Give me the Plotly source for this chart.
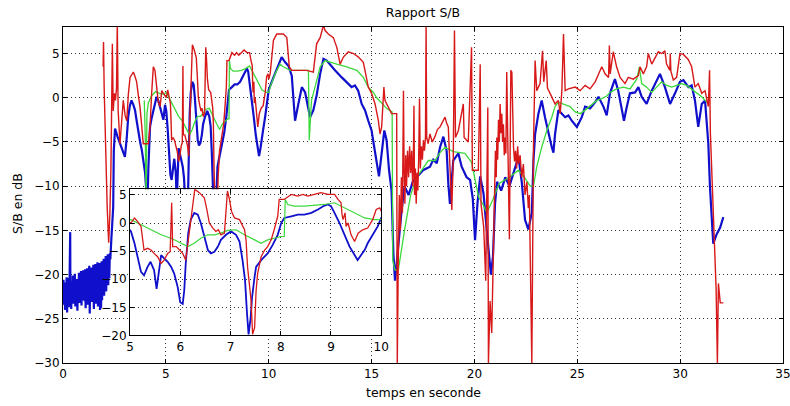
import plotly.graph_objects as go

# S/B ratio traces: (time in s, ratio in dB)
blue = [(0.000, -22.0), (0.025, -20.6), (0.050, -23.4), (0.075, -21.2), (0.100, -24.0), (0.125, -20.9),
        (0.150, -22.8), (0.175, -20.3), (0.200, -24.3), (0.225, -21.5), (0.250, -23.1), (0.275, -20.4),
        (0.300, -23.7), (0.325, -21.0), (0.350, -15.2), (0.360, -22.5), (0.375, -20.8), (0.400, -23.9),
        (0.425, -21.4), (0.450, -22.6), (0.475, -20.1), (0.500, -23.3), (0.525, -20.7), (0.550, -22.2),
        (0.575, -19.9), (0.600, -23.6), (0.625, -21.1), (0.650, -22.9), (0.675, -20.5), (0.700, -24.1),
        (0.725, -21.3), (0.750, -22.4), (0.775, -19.8), (0.800, -23.2), (0.825, -20.6), (0.850, -22.0),
        (0.875, -19.6), (0.900, -23.5), (0.925, -20.9), (0.950, -22.7), (0.975, -19.5), (1.000, -22.9),
        (1.025, -20.2), (1.050, -23.0), (1.075, -19.4), (1.100, -23.8), (1.125, -20.7), (1.150, -22.1),
        (1.175, -19.3), (1.200, -23.4), (1.225, -20.5), (1.250, -22.6), (1.275, -19.0), (1.300, -24.4),
        (1.325, -20.3), (1.350, -22.8), (1.375, -19.2), (1.400, -23.1), (1.425, -20.0), (1.450, -22.3),
        (1.475, -18.9), (1.500, -23.9), (1.525, -19.9), (1.550, -22.5), (1.575, -18.8), (1.600, -23.3),
        (1.625, -19.7), (1.650, -22.0), (1.675, -18.6), (1.700, -23.6), (1.725, -19.5), (1.750, -22.2),
        (1.775, -18.7), (1.800, -24.0), (1.825, -19.4), (1.850, -23.8), (1.875, -18.5), (1.900, -22.9),
        (1.925, -19.1), (1.950, -21.8), (1.975, -18.2), (2.000, -22.4), (2.025, -18.9), (2.050, -21.5),
        (2.075, -17.9), (2.100, -21.9), (2.125, -18.4), (2.150, -20.8), (2.175, -17.7), (2.200, -21.2),
        (2.225, -18.1), (2.250, -20.4), (2.275, -17.6), (2.300, -18.3),
        (2.35, -16.0), (2.40, -13.5), (2.44, -12.4), (2.47, -6.0), (2.53, -3.5), (2.65, -4.4),
        (2.77, -5.2), (2.90, -6.0), (3.01, -6.7), (3.10, -4.5), (3.17, -2.2), (3.25, -0.9),
        (3.33, -0.3), (3.42, -0.8), (3.50, -1.4), (3.58, -2.6), (3.66, -4.0), (3.75, -5.0),
        (3.83, -5.9), (3.91, -7.2), (3.99, -8.5), (4.05, -10.5), (4.10, -12.5), (4.15, -8.0),
        (4.20, -4.5), (4.23, -3.3), (4.30, -2.4), (4.39, -1.4), (4.47, -0.6), (4.55, 0.1),
        (4.63, -0.3), (4.71, -1.0), (4.80, -1.8), (4.88, -2.5), (4.96, -0.8),
        (5.02, -1.5), (5.09, -3.6), (5.15, -6.0), (5.22, -8.7), (5.28, -9.3), (5.35, -7.8),
        (5.41, -6.9), (5.48, -8.4), (5.53, -11.7), (5.58, -8.5), (5.62, -5.7), (5.68, -6.3),
        (5.75, -6.9), (5.82, -7.8), (5.88, -9.0), (5.95, -11.4), (6.00, -14.1), (6.05, -14.4),
        (6.08, -12.0), (6.11, -7.2), (6.16, -1.8), (6.21, 0.6), (6.28, 1.8), (6.35, 1.5),
        (6.41, 0.0), (6.48, -2.4), (6.55, -4.8), (6.61, -5.4), (6.68, -5.1), (6.75, -4.2),
        (6.81, -3.0), (6.91, -2.1), (7.01, -1.5), (7.11, -2.1), (7.18, -3.3), (7.24, -6.6),
        (7.29, -10.2), (7.33, -16.2), (7.36, -19.8), (7.40, -17.0), (7.43, -13.2), (7.48, -9.6),
        (7.51, -7.8), (7.61, -6.6), (7.74, -5.4), (7.84, -3.9), (7.94, -2.1), (8.01, 0.0),
        (8.07, 0.9), (8.21, 1.2), (8.34, 1.5), (8.47, 1.5), (8.61, 1.8), (8.74, 2.4),
        (8.87, 3.1), (8.94, 3.3), (9.00, 3.0), (9.07, 1.8), (9.17, 0.0), (9.27, -2.1),
        (9.37, -4.2), (9.47, -5.7), (9.53, -6.6), (9.60, -5.7), (9.67, -4.8), (9.73, -3.6),
        (9.83, -2.1), (9.93, -0.6), (10.00, 0.9),
        (10.23, 2.3), (10.47, 3.8), (10.63, 4.6), (10.80, 4.0), (10.96, 3.6), (11.12, 2.5),
        (11.20, -0.3), (11.28, -2.6), (11.44, -0.7), (11.61, 1.2), (11.77, 0.6), (11.93, -1.1),
        (12.01, -2.2), (12.17, -1.4), (12.34, 0.4), (12.50, 2.7), (12.66, 4.4), (12.82, 4.2),
        (13.06, 3.5), (13.22, 3.1), (13.55, 2.3), (13.79, 1.8), (14.03, 1.2), (14.19, 1.4),
        (14.35, 0.8), (14.52, -0.7), (14.68, -1.4), (14.84, -2.6), (15.00, -3.7), (15.13, -5.6),
        (15.25, -7.4), (15.36, -8.9), (15.49, -6.3), (15.62, -3.7), (15.73, -4.8), (15.85, -8.2),
        (15.97, -10.5), (16.06, -17.6), (16.14, -20.7), (16.22, -18.5), (16.30, -17.0), (16.45, -13.0),
        (16.60, -10.0), (16.80, -11.0), (17.00, -9.5), (17.19, -9.0), (17.50, -8.2), (17.84, -7.8),
        (18.00, -7.0), (18.17, -7.4), (18.33, -5.6), (18.49, -4.4), (18.65, -6.0), (18.73, -9.7),
        (18.81, -12.0), (18.97, -7.1), (19.22, -6.3), (19.38, -7.8), (19.62, -9.0), (19.79, -9.3),
        (19.92, -11.4), (20.03, -16.1), (20.15, -11.9), (20.28, -8.9), (20.44, -10.8), (20.60, -15.0),
        (20.80, -20.0), (20.90, -18.0), (21.00, -12.0), (21.10, -9.5), (21.30, -10.5), (21.50, -9.0),
        (21.70, -10.0), (21.90, -8.5), (22.14, -6.7), (22.30, -9.5), (22.46, -13.8), (22.62, -14.9),
        (22.79, -13.0), (22.87, -7.1), (22.95, -4.1), (23.11, -1.8), (23.27, -0.3), (23.43, -2.2),
        (23.60, -4.1), (23.76, -5.6), (23.84, -6.2), (23.92, -4.1), (24.08, -1.4), (24.25, -1.8),
        (24.41, -2.2), (24.57, -2.0), (24.73, -2.6), (24.98, -3.3), (25.22, -2.2), (25.38, -1.0),
        (25.62, -1.2), (25.87, -0.5), (26.03, 0.1), (26.27, -1.0), (26.43, -2.0), (26.59, 0.5),
        (26.83, 2.1), (26.99, 0.8), (27.16, -1.4), (27.27, -2.6), (27.40, -1.1), (27.56, 0.5),
        (27.81, 0.6), (27.97, 1.2), (28.13, 0.1), (28.37, -0.7), (28.62, 0.8), (28.86, 2.0),
        (29.02, 2.7), (29.26, 1.2), (29.51, -0.7), (29.75, 0.5), (29.99, 1.8), (30.16, 2.0),
        (30.40, 1.2), (30.56, 1.4), (30.72, -0.3), (30.88, -3.3), (31.05, -0.7), (31.21, -0.3),
        (31.37, -5.2), (31.45, -10.1), (31.53, -13.8), (31.61, -16.5), (31.78, -15.4), (31.94, -14.7),
        (32.10, -13.5)]

red = [(1.95, 3.5), (1.97, 6.3), (2.00, 1.2), (2.05, -3.3), (2.09, -10.0), (2.15, -12.5),
       (2.22, -16.4), (2.28, -13.0), (2.33, -8.0), (2.37, -2.0), (2.40, 6.1), (2.44, -1.5),
       (2.50, 0.5), (2.55, -0.3), (2.60, 1.0), (2.64, 8.5), (2.68, -1.4), (2.77, -5.2),
       (2.85, -2.5), (2.93, -0.3), (3.02, -2.0), (3.10, -2.6), (3.18, 0.5), (3.26, 2.3),
       (3.34, 2.6), (3.42, 2.9), (3.50, 2.4), (3.58, 1.8), (3.66, 0.3), (3.74, -1.0),
       (3.82, -3.0), (3.90, -5.2), (4.15, -5.2), (4.23, -3.3), (4.31, 0.5), (4.39, 3.5),
       (4.47, 3.1), (4.55, 0.8), (4.63, -0.5), (4.72, -1.0), (4.80, 0.8), (4.88, 0.5), (4.96, 0.2),
       (5.02, 0.0), (5.09, 0.9), (5.15, 0.3), (5.22, -0.6), (5.25, -2.4), (5.28, -4.8),
       (5.35, -4.5), (5.42, -4.8), (5.48, -5.4), (5.55, -6.0), (5.62, -7.2), (5.68, -6.6),
       (5.75, -5.4), (5.80, -5.1), (5.83, 3.6), (5.85, -4.2), (5.92, -4.2), (5.98, -4.8),
       (6.05, -5.4), (6.11, -6.6), (6.18, -1.8), (6.25, 3.0), (6.29, 6.0), (6.38, 5.4),
       (6.48, 4.5), (6.53, 2.4), (6.58, 0.0), (6.65, -0.9), (6.71, -1.5), (6.76, -1.2),
       (6.81, -2.1), (6.88, -1.8), (6.94, 5.7), (6.98, 4.2), (7.02, 2.1), (7.08, 0.9),
       (7.18, 0.6), (7.28, -1.2), (7.31, -3.0), (7.34, -7.8), (7.41, -13.8), (7.44, -19.8),
       (7.48, -18.6), (7.51, -12.0), (7.54, -9.0), (7.61, -6.0), (7.68, -4.8), (7.74, -4.2),
       (7.81, -3.0), (7.87, -1.2), (7.94, 1.2), (7.97, 4.2), (8.07, 4.2), (8.21, 5.1),
       (8.34, 4.8), (8.44, 5.1), (8.54, 4.8), (8.67, 5.1), (8.80, 5.4), (8.94, 5.1),
       (9.07, 5.1), (9.14, 4.2), (9.20, 3.6), (9.22, 1.5), (9.24, 0.6), (9.28, 1.8),
       (9.30, -0.6), (9.34, 0.0), (9.40, -2.1), (9.47, -3.3), (9.54, -1.8), (9.63, -1.2),
       (9.73, -0.9), (9.83, 0.6), (9.90, 2.4), (9.97, 2.7), (10.00, 2.1),
       (10.07, 2.7), (10.23, 6.5), (10.39, 7.2), (10.71, 7.2), (10.88, 6.8), (11.00, 3.5),
       (11.12, 3.1), (11.52, 3.1), (11.85, 3.1), (12.17, 2.9), (12.33, 6.1), (12.50, 6.8),
       (12.66, 8.2), (12.74, 7.6), (12.90, 7.2), (13.14, 6.8), (13.31, 5.7), (13.47, 3.8),
       (13.63, 4.6), (13.87, 5.2), (14.12, 5.0), (14.36, 4.6), (14.60, 4.0), (14.68, 3.1),
       (14.84, 1.2), (15.00, 0.5), (15.17, -0.7), (15.33, -2.6), (15.41, -4.1), (15.49, -3.3),
       (15.60, 1.2), (15.65, -0.3), (15.81, -1.1), (15.97, -1.8), (16.22, -1.8), (16.25, -30.0),
       (16.30, -18.0), (16.35, -11.0), (16.40, -15.0), (16.45, -9.0), (16.50, -13.0), (16.55, 0.8),
       (16.58, -8.0), (16.62, -12.0), (16.66, -6.5), (16.70, -10.0), (16.75, -6.0), (16.80, -9.0),
       (16.85, -5.5), (16.90, -8.5), (16.95, -6.0), (17.00, -10.0), (17.03, -7.0), (17.06, -0.9),
       (17.09, -11.0), (17.13, -8.0), (17.17, -12.0), (17.21, -8.5), (17.25, -10.5), (17.29, -7.0),
       (17.33, -0.1), (17.37, -8.0), (17.42, -5.5), (17.47, -7.0), (17.52, -4.8), (17.57, -6.0),
       (17.62, -4.5), (17.65, 8.0), (17.68, -4.5), (17.75, -5.2), (17.84, -4.1), (17.95, -5.0),
       (18.08, -4.4), (18.20, -3.6), (18.33, -3.3), (18.45, -2.8), (18.57, -2.2), (18.65, -2.9),
       (18.73, -3.3), (18.81, -7.8), (18.90, -12.7), (18.97, -7.0),
       (19.03, 7.6), (19.08, -4.5), (19.22, -3.7), (19.46, -0.7), (19.50, -4.5), (19.70, -5.0),
       (19.86, 5.7), (19.90, -8.2), (20.19, -8.2), (20.28, 3.8), (20.32, -12.0), (20.45, -14.6),
       (20.55, -20.7), (20.65, -1.1), (20.68, -30.0), (20.76, -23.0), (20.84, -26.6), (20.90, -20.0),
       (20.98, -12.0), (21.02, -6.0), (21.06, -9.0), (21.09, -4.5), (21.13, -7.0), (21.17, -2.5),
       (21.21, -5.0), (21.25, -0.7), (21.29, -4.0), (21.33, -1.8), (21.37, -5.0), (21.41, -3.0),
       (21.45, -6.5), (21.49, -4.5), (21.53, -6.3),
       (21.57, 2.9), (21.62, -4.5), (21.70, -16.0), (21.77, 3.1), (21.82, 2.9), (21.90, -5.6),
       (21.95, -7.2), (22.00, -6.0), (22.05, -8.0), (22.10, -5.5), (22.15, -7.5), (22.22, -6.5),
       (22.30, -9.0), (22.38, -7.5), (22.46, -11.0), (22.55, -9.5), (22.62, -12.5), (22.67, -11.0),
       (22.73, -19.5), (22.79, -30.0), (22.87, -5.6), (22.95, 4.2), (23.03, 0.8), (23.19, 1.6),
       (23.31, 5.3), (23.37, 1.8), (23.49, 4.2), (23.55, 1.1), (23.76, 0.1), (23.92, -0.7),
       (24.08, -0.3), (24.17, -1.8), (24.25, 0.8), (24.33, 7.2), (24.41, 0.8), (24.57, 1.0),
       (24.90, 1.2), (25.14, 0.8), (25.38, 1.4), (25.62, 1.0), (25.87, 1.8), (26.03, 2.7),
       (26.19, 3.5), (26.35, 2.7), (26.52, 2.3), (26.56, 5.9), (26.60, 2.7), (26.75, 5.2),
       (26.91, 3.5), (27.08, 2.3), (27.32, 1.6), (27.48, 2.3), (27.72, 2.1), (27.97, 2.5),
       (28.05, 3.5), (28.21, 2.7), (28.37, 3.5), (28.45, 5.0), (28.62, 3.8), (28.78, 4.5),
       (28.94, 5.2), (29.10, 5.0), (29.26, 5.3), (29.34, 3.8), (29.50, 3.1), (29.52, 5.0),
       (29.55, 3.0), (29.67, 2.0), (29.83, 2.3), (29.99, 5.0), (30.16, 4.9), (30.40, 4.3),
       (30.56, 3.5), (30.72, 1.2), (30.88, 1.6), (31.05, 0.5), (31.21, 0.8), (31.37, -1.0),
       (31.43, 3.1), (31.47, -4.0), (31.53, -8.2), (31.61, -12.3), (31.70, -17.6), (31.75, -21.7),
       (31.81, -30.0), (31.86, -21.0), (31.95, -23.2), (32.10, -23.2)]

green = [(3.95, -0.3), (4.00, -4.5), (4.04, -11.5), (4.08, -1.8), (4.15, -0.6), (4.30, 0.2),
         (4.50, 0.7), (4.70, 0.5), (4.90, 0.4),
         (5.02, 0.6), (5.22, -0.3), (5.42, -1.2), (5.62, -2.1), (5.82, -2.7), (6.02, -3.6),
         (6.15, -4.2), (6.28, -3.6), (6.41, -2.7), (6.55, -2.1), (6.68, -2.1), (6.81, -1.8),
         (6.94, -1.3), (7.11, -1.2), (7.28, -2.1), (7.48, -3.0), (7.61, -3.6), (7.74, -3.0),
         (7.87, -2.7), (8.01, -2.4), (8.07, -2.4), (8.09, 4.2), (8.14, 3.3), (8.27, 3.0),
         (8.47, 3.0), (8.67, 3.1), (8.87, 3.3), (9.07, 3.6), (9.27, 2.7), (9.47, 1.8),
         (9.67, 0.9), (9.87, 0.6), (10.00, 0.6),
         (10.07, 1.2), (10.31, 2.7), (10.55, 3.8), (10.71, 3.5), (11.04, 3.1), (11.52, 3.1),
         (11.93, 3.1), (11.97, -4.8), (12.08, -0.3), (12.25, 1.2), (12.50, 3.5), (12.74, 4.2),
         (12.98, 4.0), (13.31, 3.8), (13.79, 3.5), (14.28, 3.1), (14.60, 2.3), (14.84, 1.2),
         (15.09, 0.6), (15.25, 0.0), (15.49, -0.6), (15.73, -1.2), (16.00, -1.6), (16.03, -18.4),
         (16.14, -19.5), (16.30, -19.5), (16.60, -15.0), (16.90, -11.0), (17.20, -9.0), (17.50, -8.0),
         (17.76, -7.1), (18.08, -7.1), (18.30, -6.3), (18.57, -5.6), (18.97, -6.1), (19.30, -6.2),
         (19.54, -6.3), (19.86, -7.3), (20.05, -9.5), (20.20, -11.2), (20.40, -12.0), (20.60, -13.0),
         (20.90, -11.5), (21.20, -9.7), (21.70, -9.0), (22.14, -8.2), (22.40, -8.9), (22.71, -10.0),
         (22.87, -10.0), (23.03, -7.8), (23.27, -5.6), (23.52, -3.7), (23.76, -2.2), (23.92, -1.0),
         (24.08, -0.5), (24.33, -0.7), (24.65, -1.0), (24.90, -1.6), (25.14, -1.8), (25.38, -1.4),
         (25.62, -0.9), (25.95, -0.3), (26.19, -0.1), (26.43, 0.2), (26.59, 0.6), (26.91, 1.0),
         (27.24, 1.2), (27.56, 1.0), (27.89, 2.1), (28.02, 3.5), (28.13, 1.6), (28.37, 1.2),
         (28.62, 0.6), (28.86, 1.2), (29.10, 1.8), (29.34, 1.4), (29.59, 1.2), (29.83, 1.4),
         (30.07, 1.6), (30.32, 1.4), (30.56, 1.0), (30.80, 0.6), (31.05, 0.1), (31.21, -0.3),
         (31.32, -0.5)]

x_ticks = [0, 5, 10, 15, 20, 25, 30, 35]
y_ticks = [-30, -25, -20, -15, -10, -5, 0, 5]
inset_x_ticks = [5, 6, 7, 8, 9, 10]
inset_y_ticks = [-20, -15, -10, -5, 0, 5]

series = [(blue, '#1010cc', 2.2, 1.8),
          (green, '#3cd83c', 1.3, 1.2),
          (red, '#d81818', 1.4, 1.3)]

fig = go.Figure()
for pts, col, w_main, w_inset in series:
    t = [p[0] for p in pts]
    v = [p[1] for p in pts]
    fig.add_trace(go.Scatter(x=t, y=v, mode='lines', line=dict(color=col, width=w_main),
                             xaxis='x', yaxis='y', showlegend=False))
for pts, col, w_main, w_inset in series:
    t = [p[0] for p in pts]
    v = [p[1] for p in pts]
    fig.add_trace(go.Scatter(x=t, y=v, mode='lines', line=dict(color=col, width=w_inset),
                             xaxis='x2', yaxis='y2', showlegend=False))

axis_style = dict(showline=True, linecolor='black', linewidth=1, mirror='ticks',
                  ticks='inside', ticklen=4, tickcolor='black', automargin=False,
                  ticklabeloverflow='allow',
                  showgrid=True, gridcolor='#333333', griddash='1px,3px', gridwidth=1,
                  zeroline=False, tickfont=dict(size=12, color='black'))

fig.update_layout(
    width=790, height=406,
    margin=dict(l=63, r=7, t=27, b=43),
    paper_bgcolor='white', plot_bgcolor='white',
    font=dict(family='DejaVu Sans, sans-serif', size=12, color='black'),
    title=dict(text='Rapport S/B', x=0.5, xref='paper', xanchor='center',
               y=0.969, yanchor='middle', font=dict(size=12.5)),
    xaxis=dict(range=[0, 35], tickvals=x_ticks, domain=[0, 1], anchor='y', **axis_style),
    yaxis=dict(range=[-30, 8], tickvals=y_ticks, domain=[0, 1], anchor='x', **axis_style),
    xaxis2=dict(range=[5, 10], tickvals=inset_x_ticks, domain=[0.093, 0.442], anchor='y2',
                **axis_style),
    yaxis2=dict(range=[-20, 6], tickvals=inset_y_ticks, domain=[0.082, 0.517], anchor='x2',
                **axis_style),
    annotations=[
        dict(text='temps en seconde', xref='paper', yref='paper', x=0.5, y=-0.089,
             xanchor='center', yanchor='middle', showarrow=False, font=dict(size=12.5)),
        dict(text='S/B en dB', xref='paper', yref='paper', x=-0.064, y=0.476,
             xanchor='center', yanchor='middle', textangle=-90, showarrow=False,
             font=dict(size=12.5)),
    ],
)

# drop the browser's default 8px body margin so the figure fills the window
fig.write_html("out.html", config={'displayModeBar': False},
               post_script="document.body.style.margin='0px';")
